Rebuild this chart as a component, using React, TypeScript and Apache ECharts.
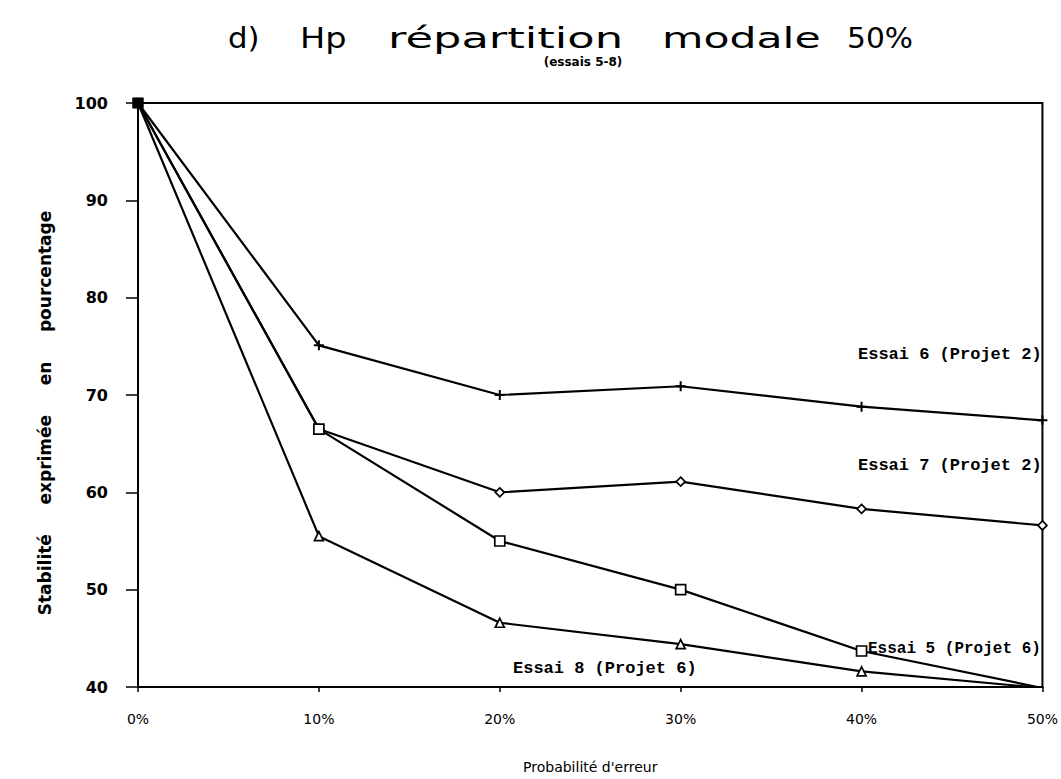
import React, { useEffect, useRef } from "react";
import * as echarts from "echarts";

const categories = ["0%", "10%", "20%", "30%", "40%", "50%"];
const yTicks = [40, 50, 60, 70, 80, 90, 100];
const essai6 = [100, 75.1, 70, 70.9, 68.8, 67.4];
const essai7 = [100, 66.5, 60, 61.1, 58.3, 56.6];
const essai5 = [100, 66.5, 55, 50, 43.7, 39.9];
const essai8 = [100, 55.5, 46.6, 44.4, 41.6, 39.9];
const seriesNames = [
  "Essai 6 (Projet 2)",
  "Essai 7 (Projet 2)",
  "Essai 5 (Projet 6)",
  "Essai 8 (Projet 6)",
];
const titleWords = ["d)", "Hp", "répartition", "modale", "50%"];
const subtitle = "(essais 5-8)";
const xName = "Probabilité d'erreur";
const yName = "Stabilité     exprimée     en     pourcentage";

const PLUS =
  "path://M4,0 L6,0 L6,4 L10,4 L10,6 L6,6 L6,10 L4,10 L4,6 L0,6 L0,4 L4,4 Z";

// title word placement (x start, scaleX)
const titleLayout = [
  { x: 228, sx: 1.1 },
  { x: 300, sx: 1.2 },
  { x: 388, sx: 1.6 },
  { x: 662, sx: 1.52 },
  { x: 847, sx: 1.06 },
];

export default function App() {
  const ref = useRef<HTMLDivElement>(null);
  useEffect(() => {
    document.body.style.margin = "0";
    if (!ref.current) return;
    const chart = echarts.init(ref.current, null, { renderer: "svg" });
    const mk = (name: string, values: number[], symbol: string, size: number, filled: boolean) => ({
      name,
      type: "line",
      data: values.map((v, i) =>
        i === 0
          ? { value: v, symbol: "rect", symbolSize: 9, itemStyle: { color: "#000", borderColor: "#000" } }
          : v
      ),
      symbol,
      symbolSize: size,
      lineStyle: { color: "#000", width: 2.2 },
      itemStyle: {
        color: filled ? "#000" : "#fff",
        borderColor: "#000",
        borderWidth: filled ? 0 : 1.7,
      },
      z: 3,
    });
    const labelStyle = {
      fontFamily: "Liberation Mono",
      fontWeight: "bold",
      fontSize: 17,
      fill: "#000",
    };
    chart.setOption({
      animation: false,
      backgroundColor: "#fff",
      title: [
        {
          text: subtitle,
          left: 578,
          top: 51,
          textAlign: "center",
          textStyle: { fontFamily: "DejaVu Sans", fontWeight: "bold", fontSize: 12, color: "#000" },
        },
      ],
      grid: {
        left: 138,
        right: 16,
        top: 103,
        bottom: 81,
        show: true,
        borderColor: "#000",
        borderWidth: 2,
        backgroundColor: "transparent",
      },
      xAxis: {
        type: "category",
        data: categories,
        boundaryGap: false,
        name: xName,
        nameLocation: "middle",
        nameGap: 73,
        nameTextStyle: { fontFamily: "DejaVu Sans", fontSize: 14, color: "#000" },
        axisLine: { lineStyle: { color: "#000", width: 2 } },
        axisTick: { show: true, length: 5, lineStyle: { color: "#000", width: 1.5 } },
        axisLabel: {
          color: "#000",
          fontFamily: "DejaVu Sans",
          fontSize: 14,
          margin: 25,
        },
        splitLine: { show: false },
      },
      yAxis: {
        type: "value",
        min: yTicks[0],
        max: yTicks[yTicks.length - 1],
        interval: 10,
        axisLine: { show: true, lineStyle: { color: "#000", width: 2 } },
        axisTick: { show: true, length: 12, lineStyle: { color: "#000", width: 1.5 } },
        axisLabel: {
          color: "#000",
          fontFamily: "DejaVu Sans",
          fontWeight: "bold",
          fontSize: 16,
          margin: 30,
        },
        splitLine: { show: false },
      },
      series: [
        mk(seriesNames[0], essai6, PLUS, 10, true),
        mk(seriesNames[1], essai7, "diamond", 9, false),
        mk(seriesNames[2], essai5, "rect", 10, false),
        mk(seriesNames[3], essai8, "triangle", 9, false),
      ],
      graphic: [
        ...titleWords.map((w, i) => ({
          type: "text",
          x: titleLayout[i].x,
          y: 38,
          scaleX: titleLayout[i].sx,
          style: {
            text: w,
            fontFamily: "DejaVu Sans",
            fontSize: 28,
            fill: "#000",
            textAlign: "left",
            textVerticalAlign: "middle",
          },
        })),
        {
          type: "text",
          x: 45,
          y: 413,
          rotation: Math.PI / 2,
          style: {
            text: yName,
            fontFamily: "DejaVu Sans",
            fontWeight: "bold",
            fontSize: 17,
            fill: "#000",
            textAlign: "center",
            textVerticalAlign: "middle",
          },
        },
        { type: "text", left: 858, top: 346, style: { ...labelStyle, text: seriesNames[0] } },
        { type: "text", left: 858, top: 457, style: { ...labelStyle, text: seriesNames[1] } },
        { type: "text", left: 868, top: 641, style: { ...labelStyle, fontSize: 16, text: seriesNames[2] } },
        { type: "text", left: 513, top: 660, style: { ...labelStyle, text: seriesNames[3] } },
      ],
    });
    return () => chart.dispose();
  }, []);
  return <div ref={ref} style={{ width: 1061, height: 779 }} />;
}
